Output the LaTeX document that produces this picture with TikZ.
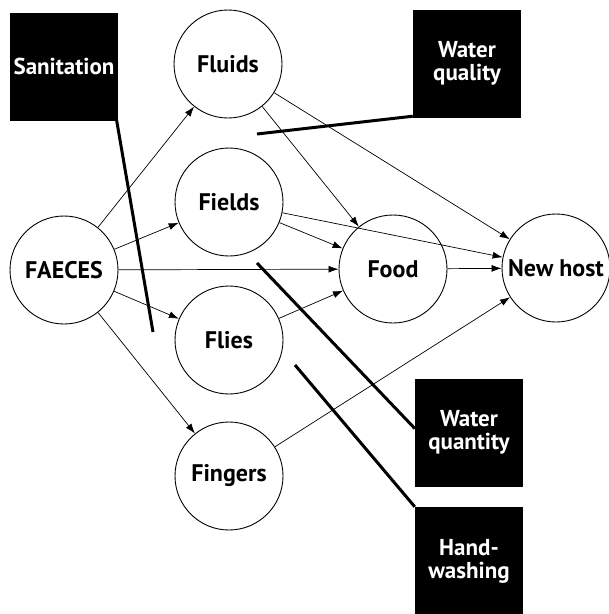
\documentclass[tikz,border=0pt]{standalone}
\usepackage{fontspec}
\setmainfont{PT Sans}
\usetikzlibrary{arrows.meta}
\begin{document}
\begin{tikzpicture}[x=1pt,y=-1pt,
 stage/.style={circle,draw,line width=0.9pt,minimum size=108pt,inner sep=0pt,font=\fontsize{24}{26}\selectfont\bfseries},
 lever/.style={fill=black,text=white,align=center,inner sep=0pt,minimum width=108pt,minimum height=108pt,font=\fontsize{23}{23}\selectfont\bfseries},
 flow/.style={-{Latex[length=10pt,width=7pt]},line width=0.7pt},
 block/.style={line width=3pt}]
\useasboundingbox (0,0) rectangle (609,614);
% stages
\node[stage] (faeces) at (64,270) {FAECES};
\node[stage] (fluids) at (228,64) {Fluids};
\node[stage] (fields) at (229,202) {Fields};
\node[stage] (flies) at (229,340) {Flies};
\node[stage] (fingers) at (229,476) {Fingers};
\node[stage] (food) at (393,269) {Food};
\node[stage] (host) at (556,268) {New host};
% barriers
\node[lever] (san) at (64,66.5) {Sanitation};
\node[lever] (wql) at (467,63.5) {Water\\quality};
\node[lever] (wqn) at (469,432.5) {Water\\quantity};
\node[lever] (hw) at (469,561) {Hand-\\washing};
% flows
\draw[flow] (faeces) -- (fluids);
\draw[flow] (faeces) -- (fields);
\draw[flow] (faeces) -- (food);
\draw[flow] (faeces) -- (flies);
\draw[flow] (faeces) -- (fingers);
\draw[flow] (fluids) -- (food);
\draw[flow] (fluids) -- (host);
\draw[flow] (fields) -- (food);
\draw[flow] (fields) -- (host);
\draw[flow] (flies) -- (food);
\draw[flow] (food) -- (host);
\draw[flow] (fingers) -- (host);
% barrier lines
\coordinate (sanend) at (153,332);
\coordinate (wqlend) at (257,134);
\coordinate (wqnend) at (257,263);
\coordinate (hwend) at (295,365);
\draw[block] ([xshift=-1.5pt]san.south east) -- (sanend);
\draw[block] ([yshift=1.5pt]wql.south west) -- (wqlend);
\draw[block] ([yshift=4pt]wqn.west) -- (wqnend);
\draw[block] (hw.north west) -- (hwend);
\end{tikzpicture}
\end{document}
